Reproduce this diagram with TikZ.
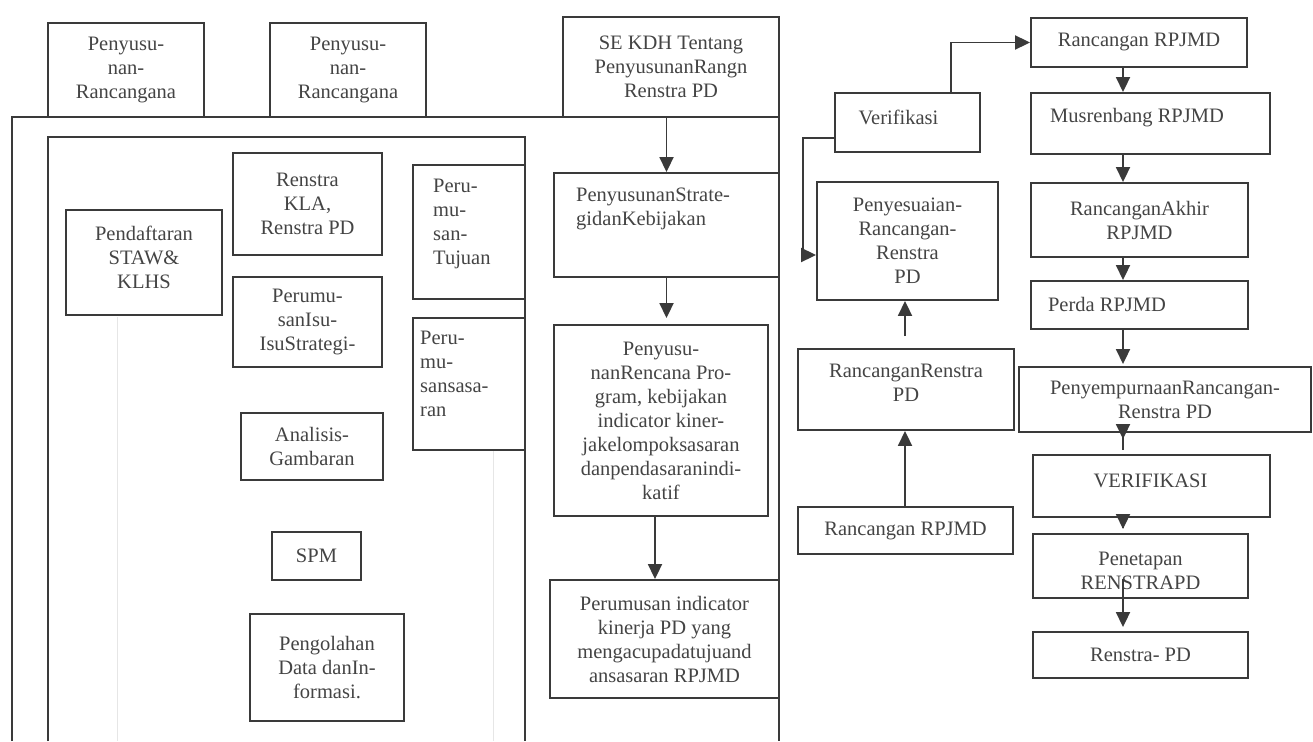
\documentclass[tikz,border=0pt]{standalone}
\usepackage{fontspec}
\setmainfont{Liberation Serif}
\usetikzlibrary{arrows.meta,calc}
\definecolor{linec}{HTML}{3A3A3A}
\definecolor{textc}{HTML}{444444}
\definecolor{faint}{HTML}{E6E6E6}
\begin{document}
\begin{tikzpicture}[x=1pt,y=-1pt,
 box/.style={draw=linec, line width=1.9pt, inner sep=0pt, align=center, text=textc, font=\fontsize{20.5}{24}\selectfont},
 wh/.style 2 args={minimum width=#1pt, minimum height=#2pt},
 txt/.style={inner sep=0pt, align=center, text=textc, font=\fontsize{20.5}{24}\selectfont},
 lbl/.style={inner sep=0pt, align=left, text=textc, font=\fontsize{20.5}{24}\selectfont},
 arr/.style={draw=linec, line width=1.9pt, -{Triangle[length=15pt,width=14pt]}},
 frame/.style={draw=linec, line width=1.9pt}]
\useasboundingbox[fill=white] (0,0) rectangle (1313,741);
% faint scan lines
\draw[faint, line width=1pt] (117,317) -- (117,741);
\draw[faint, line width=1pt] (493,450) -- (493,741);
% frames
\draw[frame] (12,741) -- (12,117) -- (779,117) -- (779,741);
\draw[frame] (48,741) -- (48,137) -- (525,137) -- (525,741);
% top boxes
\node[box, wh={156}{94}] (top1) at (126,70) {Penyusu-\\nan-\\Rancangana};
\node[box, wh={156}{94}] (top2) at (348,70) {Penyusu-\\nan-\\Rancangana};
\node[box, wh={216}{100}] (se) at (671,67) {SE KDH Tentang\\PenyusunanRangn\\Renstra PD};
% inner left boxes
\node[box, wh={149}{102}] (renstra) at (307.5,204) {Renstra\\KLA,\\Renstra PD};
\node[box, wh={156}{105}] (daftar) at (144,262.5) {};
\node[txt] (daftartx) at (144,257) {Pendaftaran\\STAW\&\\KLHS};
\node[box, wh={149}{90}] (isu) at (307.5,322) {Perumu-\\sanIsu-\\IsuStrategi-};
\node[box, wh={112}{134}] (tujuan) at (469,232) {};
\node[lbl, anchor=north west] (tujuantx) at (433,179) {Peru-\\mu-\\san-\\Tujuan};
\node[box, wh={112}{132}] (sasaran) at (469,384) {};
\node[lbl, anchor=north west] (sasarantx) at (420,331) {Peru-\\mu-\\sansasa-\\ran};
\node[box, wh={142}{67}] (analisis) at (312,446.5) {Analisis-\\Gambaran};
\node[box, wh={89}{48}] (spm) at (316.5,556) {SPM};
\node[box, wh={154}{107}] (olah) at (327,667.5) {Pengolahan\\Data danIn-\\formasi.};
% middle column
\node[box, wh={225}{104}] (strat) at (666.5,225) {};
\node[lbl, anchor=north west] (strattx) at (576,188) {PenyusunanStrate-\\gidanKebijakan};
\node[box, wh={214}{191}] (rencana) at (661,420.5) {Penyusu-\\nanRencana Pro-\\gram, kebijakan\\indicator kiner-\\jakelompoksasaran\\danpendasaranindi-\\katif};
\node[box, wh={229}{118}] (indikator) at (664.5,639) {Perumusan indicator\\kinerja PD yang\\mengacupadatujuand\\ansasaran RPJMD};
% right part
\node[box, wh={145}{59}] (verif) at (907.5,122.5) {};
\node[txt] (veriftx) at (898.5,117.5) {Verifikasi};
\node[box, wh={216}{49}] (rpjmd1) at (1139,42.5) {Rancangan RPJMD};
\node[box, wh={239}{61}] (musren) at (1150.5,123.5) {};
\node[txt] (musrentx) at (1137,118) {Musrenbang RPJMD};
\node[box, wh={181}{118}] (penyesuaian) at (907.5,241) {Penyesuaian-\\Rancangan-\\Renstra\\PD};
\node[box, wh={217}{74}] (akhir) at (1139.5,220) {RancanganAkhir\\RPJMD};
\node[box, wh={217}{48}] (perda) at (1139.5,305) {};
\node[txt] (perdatx) at (1107,304) {Perda RPJMD};
\node[box, wh={216}{81}] (rrenstra) at (906,389.5) {};
\node[txt] (rrenstratx) at (906,383) {RancanganRenstra\\PD};
\node[box, wh={215}{47}] (rpjmd2) at (905.5,530.5) {Rancangan RPJMD};
\node[box, wh={292}{65}] (penyemp) at (1165,399.5) {PenyempurnaanRancangan-\\Renstra PD};
\node[box, wh={237}{62}] (verif2) at (1151.5,486) {};
\node[txt] (verif2tx) at (1150.5,480.5) {VERIFIKASI};
\node[box, wh={215}{64}] (penetapan) at (1140.5,566) {};
\node[txt] (penetapantx) at (1140.5,571) {Penetapan\\RENSTRAPD};
\node[box, wh={215}{46}] (renstrapd) at (1140.5,655) {Renstra- PD};
% connectors
\coordinate (cx) at (1123,0);
\coordinate (cy) at (905,0);
\draw[arr] (strat.north |- se.south) -- (strat.north);
\draw[arr, shorten >=6pt] (strat.south) -- (strat.south |- rencana.north);
\draw[arr] ([xshift=-6pt]rencana.south) -- ([xshift=-6pt]rencana.south |- indikator.north);
\draw[arr] ([xshift=43.5pt]verif.north) |- (rpjmd1.west);
\draw[arr] ([yshift=-15.5pt]verif.west) -- ++(-31,0) |- ([yshift=-14pt]penyesuaian.west);
\draw[arr, shorten <=12pt] (rrenstra.north -| cy) -- (penyesuaian.south -| cy);
\draw[arr] (rpjmd2.north -| cy) -- (rrenstra.south -| cy);
\draw[arr] (rpjmd1.south -| cx) -- (musren.north -| cx);
\draw[arr] (musren.south -| cx) -- (akhir.north -| cx);
\draw[arr] (akhir.south -| cx) -- (perda.north -| cx);
\draw[arr, shorten >=2pt] (perda.south -| cx) -- (penyemp.north -| cx);
\draw[arr, shorten <=-17pt, shorten >=15pt] (penyemp.south -| cx) -- (verif2.north -| cx);
\draw[arr, shorten <=-10pt, shorten >=4pt] (verif2.south -| cx) -- (penetapan.north -| cx);
\draw[arr, shorten <=-20pt, shorten >=4pt] (penetapan.south -| cx) -- (renstrapd.north -| cx);
\end{tikzpicture}
\end{document}
